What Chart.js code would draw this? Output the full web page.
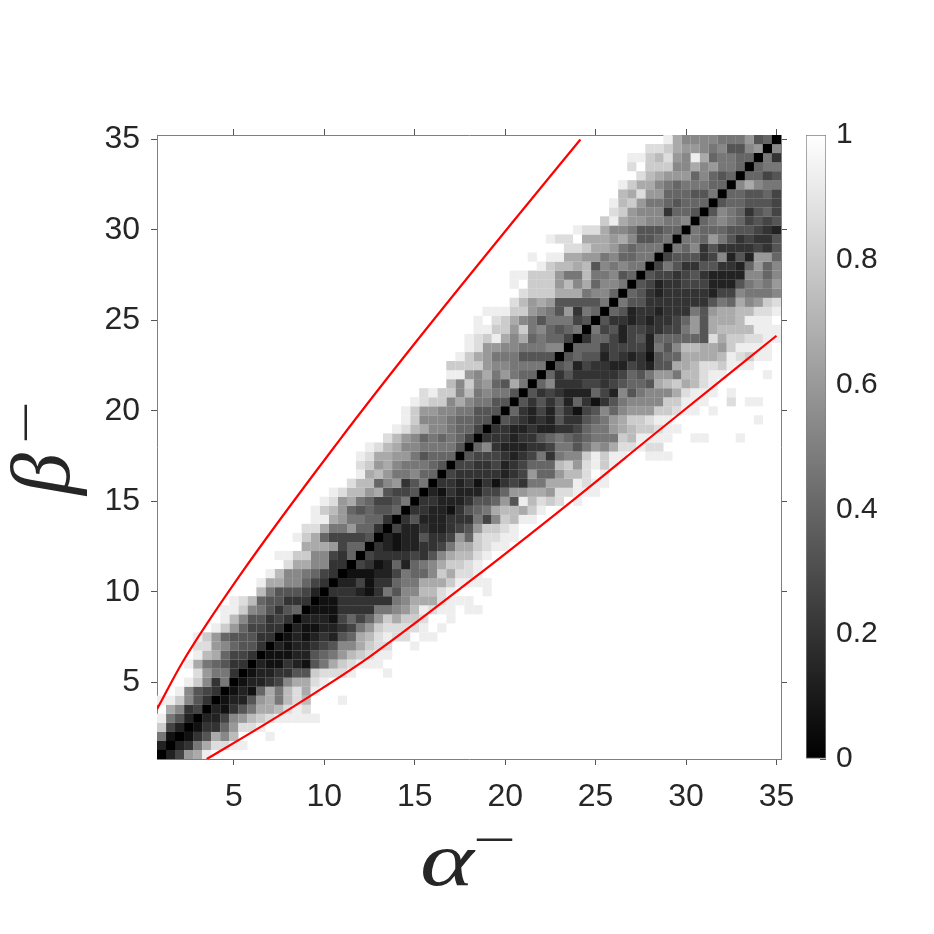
<!DOCTYPE html>
<html>
<head>
<meta charset="utf-8">
<title>alpha beta</title>
<script src="https://cdn.jsdelivr.net/npm/chart.js@4"></script>
<style>
    html, body { margin: 0; background: #fff; }
    #wrap { position: relative; width: 934px; height: 934px; overflow: hidden; }
    canvas { position: absolute; top: 0; }
    #heat { left: 0; }
    #bar { left: 796px; }
</style>
</head>
<body>
<div id="wrap">
    <canvas id="heat" width="796" height="934"></canvas>
    <canvas id="bar" width="138" height="934"></canvas>
</div>
<script>
// celdas, un digito hex por celda (0 negro, f blanco)
// fila j -> beta = 1 + j/2, columna i -> alpha = 1 + i/2
// cada cadena sale de la diagonal hacia afuera, lo que falta es blanco
const aboveDiag = [
    "", "2", "17", "24c", "257e", "4 38af", "358cee", "3458eff", "738cef", "3779df",
    "33567aef", "3446abef", "355689ddf", "3355569cef", "334469cef", "343558bef", "653578ceef", "333556bdef", "245557bf", "34688aaef",
    "346788bef", "3388aadff", "63488cceef", "6649aaaff", "544446acef", "36697 7addff", "366779aeef", "65565 69bcef", "75446 7a9deff", "5445a9bbdef",
    "753986bbdfff", "668779baef", "567778a9cdf", "666579 9aadef", "577778 8abdef", "467676 89bdff", "466788abdef", "556678 88cef", "555778 899cef", "55778a8ccdef",
    "5778 7b8ccedf", "7a5698c8bfff", "667 97a89eef", "777788 9ccccff", "555577 79acef", "88777 8899def", "46676a8aecdef", "765687c9cceef", "547775 78acdfef", "67395789cceeef",
    "755555 9a9bdff", "6887aaacccdff", "7886a8b9cccfe", "65877b779ccceef", "778785babbceff", "77668799aaeefef", "777679aacddff", "76558a9aaafddef", "6655578 8addeff", "8778899aecff",
    "56638889cdf", "66656779cbef", "75566 699dabff", "66777678aacef", "65686999abdfff", "67798a88cccfdf", "66776ae89dbceef", "985587899acddff", "6597778888aeff"
];
const belowDiag = [
    "249ae", "237addee", "135a8bfffe", "13369dde", "22489bcdeeeee", "21357aabded", "12259a7bdbfffefff", "1216a7bdaeff", "122348aade", "1223355cdddefffe",
    "21132157acdeeef", "111225679bcdeef", "212234588acddffe", "12123256abdeddfee", "211223479cddddefe", "222146469caccdffef", "1113333778 9bedeefee", "1133333378aaadeeef", "33321375 88bbdefffe", "22413367 7aaaceeee",
    "1112247668caddeff", "431262678accdef", "433334358abbdef", "321223347aacdee", "2122533496cddeef", "4223223459ccdef", "35222333748cbeef", "3322135 67abbacef", "33222355695ebdcdfeff", "21322244699aa9ddeeef",
    "33231313437 7aaaedeeff", "4333332349669bbdfef", "44334234666bc9decefff", "5444323473788cecee ffeee", "683222334775798addeddffff", "33323356765677 7cbeeeeffeefffe", "33223223346779abccdeeff", "543232533567 9accdeefffffffffe", "632425314586899 9ccdeefefff", "53535263135 78888cceeeffdfee",
    "534322264285788 8adeeefef", "68333443456 65abcabdeff", "63533333465799 7bbdeeffffe", "562433224325 5aabddceeeff", "56552432315 66aaaabedceef", "666344442758bbaa9ceeeef", "366424526666 65dacc ddee", "745244334 4795abbbbeee", "53323233 4695aaabeeef", "652332333 759aabbdde",
    "755333333 35 76a89cde", "65323333 324487778", "542334442 2257879", "5443453 22228868", "47533553326968", "4555348252996", "768353333435", "77697534335", "7666555432", "678764545",
    "58763564", "5665554", "665564", "8a877", "6645", "677", "73", "8", ""
];
const diagValue = 0;

const upperAlpha = [0.75, 2.16, 5.31, 10.84, 14.71, 20.51, 24.16];
const upperBeta = [3.5, 6.1, 10.87, 18.38, 23.36, 30.55, 35];
const lowerAlpha = [3.5, 6.8, 9.9, 12.5, 18.14, 23.55, 28.53, 35];
const lowerBeta = [0.75, 2.72, 4.67, 6.4, 10.65, 14.9, 18.94, 24.15];

const alphaTicks = [5, 10, 15, 20, 25, 30, 35];
const betaTicks = [5, 10, 15, 20, 25, 30, 35];
const barTicks = [0, 0.2, 0.4, 0.6, 0.8, 1];

const inkColor = '#262626';
const boxColor = '#7f7f7f';

const greyOf = v => {
    const g = Math.round(v * 255);
    return `rgb(${g},${g},${g})`;
};

// puntos del mapa de calor, las celdas blancas no hacen falta
const cells = [], cellColors = [];
const addCell = (i, j, v) => {
    if (i < 0 || i > 68 || v >= 1) return;
    cells.push({ x: 1 + i / 2, y: 1 + j / 2 });
    cellColors.push(greyOf(v));
};
aboveDiag.forEach((row, j) => {
    [...row.replace(/ /g, '')].forEach((c, k) => addCell(j - 1 - k, j, parseInt(c, 16) / 15));
});
belowDiag.forEach((row, j) => {
    [...row.replace(/ /g, '')].forEach((c, k) => addCell(j + 1 + k, j, parseInt(c, 16) / 15));
});
// la diagonal al final para que quede encima
aboveDiag.forEach((row, j) => addCell(j, j, diagValue));

const fixTicks = values => scale => { scale.ticks = values.map(v => ({ value: v })); };
const sideAxis = (position, values, size, labelled) => {
    const horizontal = position === 'top' || position === 'bottom';
    return {
        type: 'linear',
        position: position,
        min: 0.75,
        max: 35.25,
        afterBuildTicks: fixTicks(values),
        // tamaño fijo para que el area quede donde en la figura
        afterFit: scale => {
            if (horizontal) scale.height = size; else scale.width = size;
            scale.paddingLeft = scale.paddingRight = scale.paddingTop = scale.paddingBottom = 0;
        },
        border: { color: boxColor, width: 1 },
        grid: { drawOnChartArea: false, color: '#555', tickLength: 6 },
        ticks: {
            display: labelled,
            autoSkip: false,
            maxRotation: 0,
            padding: horizontal ? 13 : 11,
            color: inkColor,
            font: { family: 'Liberation Sans', size: 32 },
            callback: v => String(v)
        }
    };
};

// alfa y beta con su barra, el titulo de la escala no deja colocar la barra aparte
const axisSymbols = {
    id: 'axisSymbols',
    afterDraw(chart) {
        const ctx = chart.ctx;
        ctx.save();
        ctx.fillStyle = inkColor;
        ctx.textAlign = 'left';
        ctx.textBaseline = 'alphabetic';

        ctx.save();
        ctx.translate(420, 885);
        ctx.scale(1.35, 1);
        ctx.font = 'italic 76px "Liberation Serif"';
        ctx.fillText('α', 0, 0);
        ctx.restore();
        ctx.font = 'bold 35px "Liberation Serif"';
        ctx.fillText('—', 477, 848);

        ctx.save();
        ctx.translate(69, 495);
        ctx.rotate(-Math.PI / 2);
        ctx.font = 'italic 84px "Liberation Serif"';
        ctx.fillText('β', 0, 0);
        ctx.restore();
        ctx.save();
        ctx.translate(34, 440);
        ctx.rotate(-Math.PI / 2);
        ctx.font = 'bold 35px "Liberation Serif"';
        ctx.fillText('—', 0, 0);
        ctx.restore();

        ctx.restore();
    }
};

new Chart(document.getElementById('heat'), {
    type: 'scatter',
    data: {
        datasets: [
            {
                data: upperAlpha.map((a, n) => ({ x: a, y: upperBeta[n] })),
                showLine: true, borderColor: '#ff0000', borderWidth: 2.2, pointRadius: 0,
                cubicInterpolationMode: 'monotone', order: 0
            },
            {
                data: lowerAlpha.map((a, n) => ({ x: a, y: lowerBeta[n] })),
                showLine: true, borderColor: '#ff0000', borderWidth: 2.2, pointRadius: 0,
                cubicInterpolationMode: 'monotone', order: 0
            },
            {
                data: cells,
                pointStyle: 'rect',
                pointRadius: 6.5,
                pointBorderWidth: 0,
                pointBackgroundColor: cellColors,
                order: 1
            }
        ]
    },
    plugins: [axisSymbols],
    options: {
        responsive: false,
        animation: false,
        events: [],
        plugins: { legend: { display: false }, tooltip: { enabled: false } },
        scales: {
            x: sideAxis('bottom', alphaTicks, 175, true),
            y: sideAxis('left', betaTicks, 157, true),
            xTop: sideAxis('top', alphaTicks, 135, false),
            yRight: sideAxis('right', betaTicks, 15, false)
        }
    }
});

new Chart(document.getElementById('bar'), {
    type: 'bar',
    data: {
        labels: [''],
        datasets: [{
            data: [[barTicks[0], barTicks[barTicks.length - 1]]],
            barPercentage: 1,
            categoryPercentage: 1,
            borderWidth: 1,
            borderColor: boxColor,
            borderSkipped: false,
            backgroundColor: ctx => {
                const area = ctx.chart.chartArea;
                if (!area) return '#888';
                const fade = ctx.chart.ctx.createLinearGradient(0, area.bottom, 0, area.top);
                fade.addColorStop(0, '#000');
                fade.addColorStop(1, '#fff');
                return fade;
            }
        }]
    },
    options: {
        responsive: false,
        animation: false,
        events: [],
        layout: { padding: { left: 10, top: 135, bottom: 175 } },
        plugins: { legend: { display: false }, tooltip: { enabled: false } },
        scales: {
            x: { display: false },
            y: {
                position: 'right',
                min: 0,
                max: 1,
                afterBuildTicks: fixTicks(barTicks),
                afterFit: scale => {
                    scale.width = 108;
                    scale.paddingTop = scale.paddingBottom = 0;
                },
                border: { display: false },
                grid: { drawOnChartArea: false, color: '#555', tickLength: -6 },
                ticks: {
                    padding: 16,
                    color: inkColor,
                    font: { family: 'Liberation Sans', size: 30 },
                    callback: v => String(v)
                }
            }
        }
    }
});
</script>
</body>
</html>
